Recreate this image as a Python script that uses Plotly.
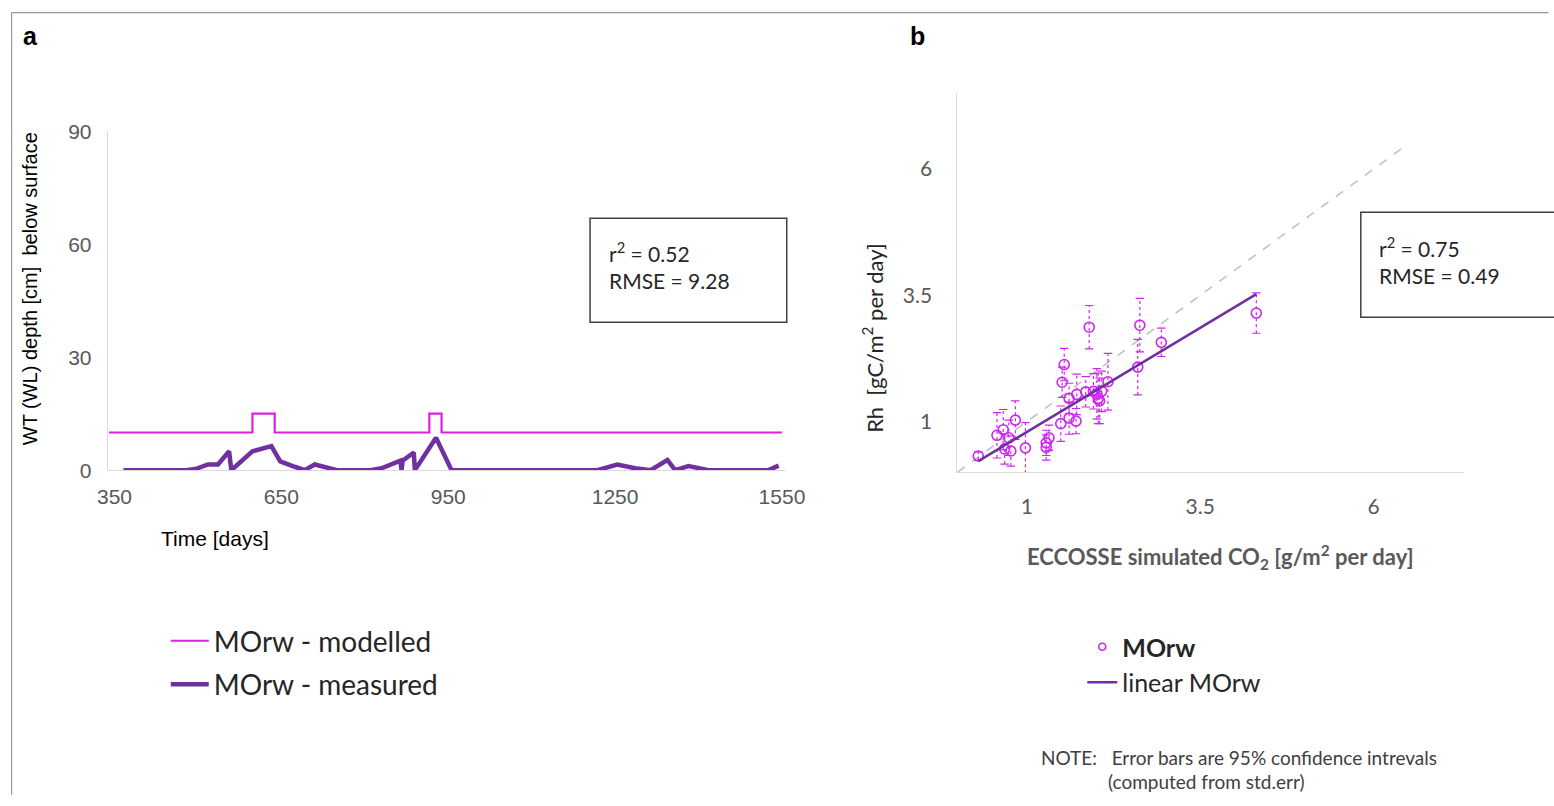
import plotly.graph_objects as go

# ---------------- Panel a data ----------------
mod_days = [340, 598, 598, 638, 638, 916, 916, 938, 938, 1550]
mod_depth = [10, 10, 15, 15, 10, 10, 15, 15, 10, 10]

meas_days = [366, 478, 498, 518, 536, 556, 560, 598, 632, 648, 674, 692, 710, 730, 750,
             810, 830, 864, 866, 868, 888, 890, 928, 956, 1218, 1254, 1286, 1314, 1344,
             1358, 1382, 1418, 1526, 1544]
meas_depth = [0, 0, 0.4, 1.5, 1.5, 5.0, 0, 5.0, 6.4, 2.3, 0.9, 0, 1.5, 0.6, 0,
              0, 0.5, 2.5, 0, 2.5, 4.7, 0, 8.6, 0, 0, 1.5, 0.5, 0, 2.7,
              0, 1.1, 0, 0, 1.2]

a_xticks = [350, 650, 950, 1250, 1550]
a_yticks = [0, 30, 60, 90]

# ---------------- Panel b data ----------------
sim_co2 = [0.30, 0.57, 0.66, 0.74, 0.68, 0.77, 0.835, 0.98, 1.28, 1.28, 1.32, 1.49, 1.51,
           1.54, 1.61, 1.61, 1.71, 1.72, 1.85, 1.96, 2.01, 2.03, 2.05, 2.08, 2.17, 2.60,
           1.90, 2.63, 2.94, 4.31]
rh_meas = [0.32, 0.73, 0.84, 0.68, 0.46, 0.42, 1.03, 0.48, 0.49, 0.58, 0.68, 0.96, 1.78,
           2.13, 1.46, 1.07, 1.01, 1.54, 1.59, 1.60, 1.55, 1.46, 1.41, 1.60, 1.79, 2.08,
           2.87, 2.91, 2.57, 3.15]
rh_ci = [0.08, 0.45, 0.40, 0.35, 0.30, 0.30, 0.38, 0.50, 0.25, 0.25, 0.25, 0.35, 0.30,
         0.32, 0.30, 0.32, 0.25, 0.40, 0.30, 0.35, 0.50, 0.50, 0.45, 0.40, 0.56, 0.55,
         0.43, 0.53, 0.28, 0.40]

fit_slope = 0.825
fit_intercept = -0.03
fit_x = [0.30, 4.31]
one_to_one = [0, 6.5]

b_ticks = [1, 3.5, 6]

# ---------------- styles ----------------
W, H = 1554, 806
MAG = "#DD20DD"
PURPLE = "#7030A0"
SCAT = "#D024F2"
AXC = "#D9D9D9"
TICKC = "#595959"

# the page is photographed with a small inset; map target pixel positions to layout space
OX, SXS = 10.0, 0.981
OY, SYS = 10.6, 0.972


def X(r):
    return ((r - OX) / SXS) / W


def Y(r):
    return 1 - ((r - OY) / SYS) / H


fig = go.Figure()

# panel a traces
fig.add_trace(go.Scatter(x=mod_days, y=mod_depth, mode="lines", name="MOrw - modelled",
                         line=dict(color=MAG, width=2.2), xaxis="x", yaxis="y",
                         legend="legend", legendgroup="m1"))
fig.add_trace(go.Scatter(x=meas_days, y=meas_depth, mode="lines", name="MOrw - measured",
                         line=dict(color=PURPLE, width=4.5), xaxis="x", yaxis="y",
                         legend="legend", legendgroup="m2"))

# panel b traces
fig.add_trace(go.Scatter(x=one_to_one, y=one_to_one, mode="lines", showlegend=False,
                         line=dict(color="#BFBFBF", width=1.5, dash="dash"),
                         xaxis="x2", yaxis="y2"))

ex, ey, cx, cy = [], [], [], []
for xv, yv, e in zip(sim_co2, rh_meas, rh_ci):
    ex += [xv, xv, None]
    ey += [yv - e, yv + e, None]
    cx += [xv, xv]
    cy += [yv - e, yv + e]
fig.add_trace(go.Scatter(x=ex, y=ey, mode="lines", showlegend=False,
                         line=dict(color=SCAT, width=1.2, dash="dot"),
                         xaxis="x2", yaxis="y2"))
fig.add_trace(go.Scatter(x=cx, y=cy, mode="markers", showlegend=False,
                         marker=dict(symbol="line-ew", size=6,
                                     line=dict(color=SCAT, width=1.2)),
                         xaxis="x2", yaxis="y2"))

fig.add_trace(go.Scatter(x=sim_co2, y=rh_meas, mode="markers", showlegend=False,
                         marker=dict(symbol="circle-open", size=10,
                                     line=dict(color=SCAT, width=1.6), color=SCAT),
                         xaxis="x2", yaxis="y2", legendgroup="b1"))
# legend entry (smaller marker, as in the reference legend)
fig.add_trace(go.Scatter(x=[None], y=[None], mode="markers", name="<b>MOrw</b>",
                         marker=dict(symbol="circle-open", size=7,
                                     line=dict(color=SCAT, width=1.6), color=SCAT),
                         xaxis="x2", yaxis="y2", legend="legend2", legendgroup="b1"))

fit_y = [fit_slope * v + fit_intercept for v in fit_x]
fig.add_trace(go.Scatter(x=fit_x, y=fit_y, mode="lines", name="linear MOrw",
                         line=dict(color=PURPLE, width=2.5),
                         xaxis="x2", yaxis="y2", legend="legend2", legendgroup="b2"))

common_axis = dict(showgrid=False, zeroline=False, showline=True, linecolor=AXC,
                   linewidth=1.3, ticks="")

fig.update_layout(
    width=W, height=H,
    margin=dict(l=0, r=0, t=0, b=0),
    paper_bgcolor="white", plot_bgcolor="white",
    xaxis=dict(domain=[X(107), X(785)], range=[338, 1555], tickvals=a_xticks,
               tickfont=dict(family="Liberation Sans", size=21, color=TICKC),
               ticklabelstandoff=8, anchor="y", **common_axis),
    yaxis=dict(domain=[Y(469), Y(130)], range=[0, 90], tickvals=a_yticks,
               tickfont=dict(family="Liberation Sans", size=21, color=TICKC),
               ticklabelstandoff=11, anchor="x", **common_axis),
    xaxis2=dict(domain=[X(958), X(1465)], range=[0, 7.3], tickvals=b_ticks,
                tickfont=dict(family="Lato", size=21, color=TICKC),
                ticklabelstandoff=16, anchor="y2", **common_axis),
    yaxis2=dict(domain=[Y(471), Y(92)], range=[0, 7.5], tickvals=b_ticks,
                tickfont=dict(family="Lato", size=21, color=TICKC),
                ticklabelstandoff=20, anchor="x2", **common_axis),
    legend=dict(x=X(165), y=Y(615), xanchor="left", yanchor="top",
                font=dict(family="Lato", size=28, color="#262626"),
                bgcolor="rgba(0,0,0,0)", tracegroupgap=4, itemwidth=38),
    legend2=dict(x=X(1083), y=Y(623), xanchor="left", yanchor="top",
                 font=dict(family="Lato", size=25, color="#262626"),
                 bgcolor="rgba(0,0,0,0)", tracegroupgap=0, itemwidth=30),
    showlegend=True,
)

ann = []
# panel labels
ann.append(dict(x=X(30), y=Y(35), text="<b>a</b>", font=dict(family="Liberation Sans", size=25, color="black")))
ann.append(dict(x=X(918), y=Y(35), text="<b>b</b>", font=dict(family="Liberation Sans", size=25, color="black")))
# axis titles panel a
ann.append(dict(x=X(214), y=Y(537), text="Time [days]",
                font=dict(family="Liberation Sans", size=21, color="black")))
ann.append(dict(x=X(29), y=Y(287), text="WT (WL) depth [cm]  below surface", textangle=-90,
                font=dict(family="Liberation Sans", size=20, color="black")))
# axis titles panel b
ann.append(dict(x=X(1221), y=Y(556), text="<b>ECCOSSE simulated CO<sub>2</sub> [g/m<sup>2</sup> per day]</b>",
                font=dict(family="Lato", size=22, color=TICKC)))
ann.append(dict(x=X(873), y=Y(337), text="Rh  [gC/m<sup>2</sup> per day]", textangle=-90,
                font=dict(family="Lato", size=22, color="#262626")))
# stats boxes
ann.append(dict(x=X(607), y=Y(264), xanchor="left", align="left",
                text="r<sup>2</sup> = 0.52<br>RMSE = 9.28",
                font=dict(family="Lato", size=21, color="#262626")))
ann.append(dict(x=X(1378), y=Y(259), xanchor="left", align="left",
                text="r<sup>2</sup> = 0.75<br>RMSE = 0.49",
                font=dict(family="Lato", size=21, color="#262626")))
# note
ann.append(dict(x=X(1040), y=Y(757), xanchor="left", align="left",
                text="NOTE:   Error bars are 95% confidence intrevals",
                font=dict(family="Lato", size=19, color="#404040")))
ann.append(dict(x=X(1107), y=Y(781), xanchor="left", align="left",
                text="(computed from std.err)",
                font=dict(family="Lato", size=19, color="#404040")))

for a in ann:
    a.setdefault("xanchor", "center")
    a.update(xref="paper", yref="paper", yanchor="middle", showarrow=False)
fig.update_layout(annotations=ann)

# right stats box is cut by the image edge in the reference: open path, no right side
shapes = [
    dict(type="rect", xref="paper", yref="paper", x0=X(590), x1=X(787), y0=Y(217), y1=Y(321),
         line=dict(color="#404040", width=1.5)),
    dict(type="path", xref="paper", yref="paper",
         path=f"M {X(1560)} {Y(211)} L {X(1362)} {Y(211)} L {X(1362)} {Y(316)} L {X(1560)} {Y(316)}",
         line=dict(color="#404040", width=1.5)),
    dict(type="line", xref="paper", yref="paper", x0=0.6 / W, x1=X(1550), y0=1 - 0.6 / H, y1=1 - 0.6 / H,
         line=dict(color="#9A9A9A", width=1.2)),
    dict(type="line", xref="paper", yref="paper", x0=0.6 / W, x1=0.6 / W, y0=1 - 0.6 / H, y1=0.0,
         line=dict(color="#9A9A9A", width=1.2)),
]
fig.update_layout(shapes=shapes)

post = ("document.body.style.margin='0px';"
        "document.body.style.padding='0px';"
        "document.documentElement.style.overflow='hidden';"
        "document.body.style.overflow='hidden';")
fig.write_html("out.html", post_script=post, config={"displayModeBar": False})
